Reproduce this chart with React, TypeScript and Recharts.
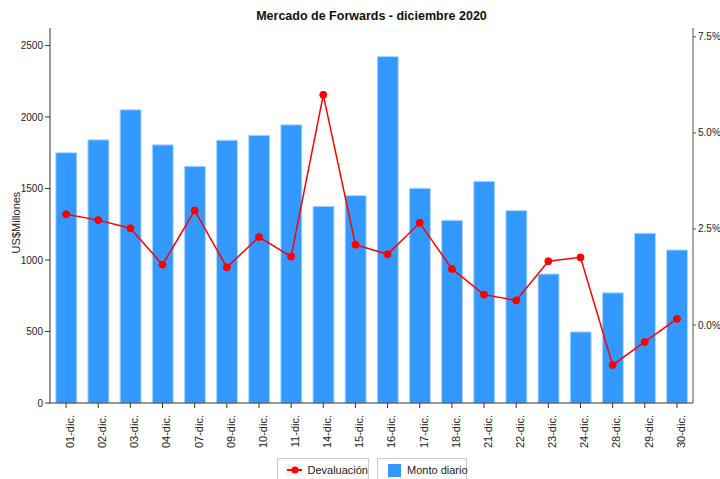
import { ComposedChart, Bar, Line, XAxis, YAxis, Label } from 'recharts'

const dias = [
  '01-dic.', '02-dic.', '03-dic.', '04-dic.', '07-dic.', '09-dic.', '10-dic.', '11-dic.', '14-dic.', '15-dic.',
  '16-dic.', '17-dic.', '18-dic.', '21-dic.', '22-dic.', '23-dic.', '24-dic.', '28-dic.', '29-dic.', '30-dic.',
]
const montoDiario = [1750, 1840, 2050, 1805, 1655, 1838, 1872, 1945, 1375, 1450, 2422, 1502, 1278, 1550, 1345, 902, 497, 770, 1187, 1070]
const devaluacion = [2.88, 2.73, 2.52, 1.57, 2.98, 1.5, 2.29, 1.78, 5.99, 2.09, 1.84, 2.66, 1.46, 0.79, 0.64, 1.66, 1.76, -1.04, -0.44, 0.16]
const ticksMonto = [0, 500, 1000, 1500, 2000, 2500]
const ticksDev = [0, 2.5, 5, 7.5]

const data = dias.map((d, i) => ({ dia: d, monto: montoDiario[i], dev: devaluacion[i] }))

const font = '"Liberation Sans", Arial, sans-serif'

function DiaTick(props: any) {
  const { x, y, payload } = props
  return (
    <text
      transform={`translate(${x + 4},${y + 5}) rotate(-90)`}
      textAnchor="end"
      dy="0.35em"
      fontSize={11}
      fill="#222"
      fontFamily={font}
    >
      {payload.value}
    </text>
  )
}

export default function App() {
  return (
    <div style={{ position: 'absolute', left: 0, top: 0, width: 720, height: 479, background: '#fff', fontFamily: font }}>
      <div style={{ position: 'absolute', left: 0, width: 743, top: 9, textAlign: 'center', fontSize: 12.5, fontWeight: 'bold', color: '#111' }}>
        Mercado de Forwards - diciembre 2020
      </div>
      <ComposedChart
        width={720}
        height={479}
        data={data}
        margin={{ top: 28, right: 0, bottom: 0, left: 0 }}
        barCategoryGap="18%"
      >
        <XAxis
          dataKey="dia"
          interval={0}
          height={76}
          tick={<DiaTick />}
          tickSize={5}
          axisLine={{ stroke: '#333' }}
          tickLine={{ stroke: '#333' }}
        />
        <XAxis xAxisId="top" dataKey="dia" orientation="top" height={0} tick={false} tickLine={false} axisLine={{ stroke: '#aaa' }} />
        <YAxis
          yAxisId="left"
          width={50}
          domain={[0, 2622]}
          ticks={ticksMonto}
          tickSize={5}
          axisLine={{ stroke: '#333' }}
          tickLine={{ stroke: '#333' }}
          tick={{ fontSize: 10, fill: '#222', fontFamily: font }}
        >
          <Label value="US$Millones" angle={-90} position="insideLeft" offset={16} dy={7} style={{ fontSize: 11, fill: '#222', fontFamily: font, textAnchor: 'middle' }} />
        </YAxis>
        <YAxis
          yAxisId="right"
          orientation="right"
          width={27}
          domain={[-2.03, 7.73]}
          ticks={ticksDev}
          tickFormatter={(v: number) => `${v.toFixed(1)}%`}
          tickSize={3}
          axisLine={{ stroke: '#555' }}
          tickLine={{ stroke: '#555' }}
          tick={{ fontSize: 10, fill: '#222', fontFamily: font, textAnchor: 'start' }}
        />
        <Bar yAxisId="left" dataKey="monto" fill="#3399ff" stroke="#b3d9ff" strokeWidth={1} isAnimationActive={false} />
        <Line
          yAxisId="right"
          dataKey="dev"
          stroke="#ff0000"
          strokeWidth={1.5}
          dot={{ r: 3.5, fill: '#ff0000', stroke: '#ff0000', strokeWidth: 1 }}
          isAnimationActive={false}
        />
      </ComposedChart>
      <div style={{ position: 'absolute', left: 277, top: 458, width: 92, height: 24, border: '1px solid #ccc', boxSizing: 'border-box', display: 'flex', alignItems: 'center', fontSize: 11, color: '#222', whiteSpace: 'nowrap' }}>
        <svg width={20} height={12} style={{ marginLeft: 7, marginRight: 5, background: '#f2f2f2' }}>
          <line x1={2} y1={6} x2={18} y2={6} stroke="#ff0000" strokeWidth={2} />
          <circle cx={10} cy={6} r={3.5} fill="#ff0000" />
        </svg>
        Devaluación
      </div>
      <div style={{ position: 'absolute', left: 377, top: 458, width: 90, height: 24, border: '1px solid #ccc', boxSizing: 'border-box', display: 'flex', alignItems: 'center', fontSize: 11, color: '#222', whiteSpace: 'nowrap' }}>
        <div style={{ width: 13, height: 13, background: '#3399ff', marginLeft: 10, marginRight: 6, flexShrink: 0 }} />
        Monto diario
      </div>
    </div>
  )
}
